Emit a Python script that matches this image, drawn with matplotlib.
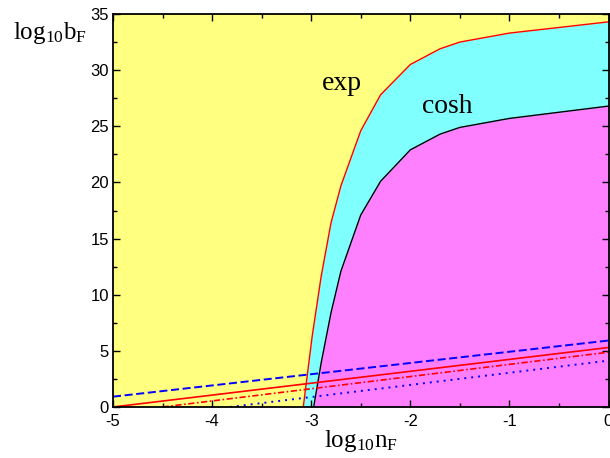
import matplotlib
matplotlib.use("Agg")
import matplotlib.pyplot as plt

plt.rcParams['font.family'] = ['Liberation Sans', 'DejaVu Sans']
plt.rcParams['lines.scale_dashes'] = False

# exp boundary (red curve)
exp_x = [-3.08, -2.99, -2.9, -2.8, -2.7, -2.5, -2.3, -2.0, -1.7, -1.5, -1.0, 0.0]
exp_y = [0.0, 6.3, 11.6, 16.4, 19.7, 24.6, 27.8, 30.5, 31.9, 32.5, 33.3, 34.3]
# cosh boundary (black curve)
cosh_x = [-2.975, -2.9, -2.8, -2.7, -2.5, -2.3, -2.0, -1.7, -1.5, -1.0, 0.0]
cosh_y = [0.0, 3.9, 8.4, 12.1, 17.1, 20.1, 22.9, 24.3, 24.9, 25.7, 26.8]

# straight lines (start, end)
blue_dash_x = [-5.0, 0.0]
blue_dash_y = [0.92, 5.92]
red_solid_x = [-5.0, 0.0]
red_solid_y = [0.0, 5.3]
red_dashdot_x = [-4.5, 0.0]
red_dashdot_y = [0.0, 4.88]
blue_dot_x = [-3.82, 0.0]
blue_dot_y = [0.0, 4.13]

xticks = [-5, -4, -3, -2, -1, 0]
yticks = [0, 5, 10, 15, 20, 25, 30, 35]

fig = plt.figure(figsize=(6.1, 4.58), dpi=100)
ax = fig.add_axes([113/610, 1-407/458, (608.5-113)/610, (407-14)/458])
ax.set_facecolor('#FFFF80')

ax.fill_between(exp_x, 0, exp_y, color='#80FFFF', lw=0)
ax.fill_between(cosh_x, 0, cosh_y, color='#FF80FF', lw=0)
ax.plot(exp_x, exp_y, color='#FF0000', lw=1.0)
ax.plot(cosh_x, cosh_y, color='black', lw=1.0)

ax.plot(blue_dash_x, blue_dash_y, color='#0000FF', lw=1.4, dashes=(5.8, 2.6))
ax.plot(red_solid_x, red_solid_y, color='#FF0000', lw=1.2)
ax.plot(red_dashdot_x, red_dashdot_y, color='#FF0000', lw=1.2, dashes=(4.5, 1.8, 1.2, 1.8))
ax.plot(blue_dot_x, blue_dot_y, color='#0000FF', lw=1.4, dashes=(1.4, 3.6))

ax.set_xlim(-5, 0)
ax.set_ylim(0, 35)
ax.set_xticks(xticks)
ax.set_yticks(yticks)
ax.set_xticklabels([str(t) for t in xticks])
ax.set_yticklabels([str(t) for t in yticks])
ax.set_xticks([-4.5, -3.5, -2.5, -1.5, -0.5], minor=True)
ax.set_yticks([2.5, 7.5, 12.5, 17.5, 22.5, 27.5, 32.5], minor=True)
ax.tick_params(which='both', direction='in', top=True, right=True, width=1.0)
ax.tick_params(which='major', length=5)
ax.tick_params(which='minor', length=3)
ax.tick_params(axis='x', which='major', pad=5, labelsize=12)
ax.tick_params(axis='y', which='major', pad=3, labelsize=12)
for s in ax.spines.values():
    s.set_linewidth(1.3)

serif = ['Liberation Serif', 'DejaVu Serif']
ax.text(-2.69, 28.25, 'exp', family=serif, fontsize=20, ha='center', va='baseline')
ax.text(-1.624, 26.2, 'cosh', family=serif, fontsize=20, ha='center', va='baseline')

fig.text(324/610, 1-446.7/458, r'$\mathregular{log_{10}n_F}$', family=serif,
         fontsize=18, ha='left', va='baseline')
fig.text(12.7/610, 1-39.3/458, r'$\mathregular{log_{10}b_F}$', family=serif,
         fontsize=18, ha='left', va='baseline')

fig.savefig('out.png', dpi=100)
